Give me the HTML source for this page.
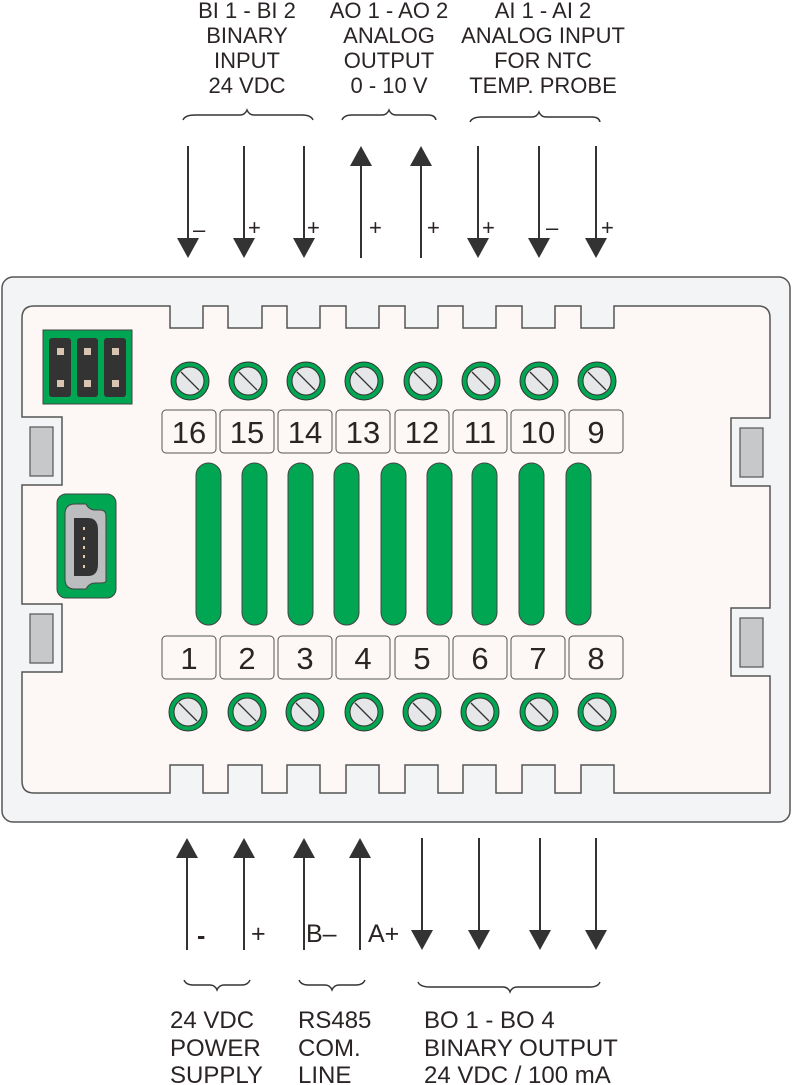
<!DOCTYPE html>
<html><head><meta charset="utf-8"><style>
html,body{margin:0;padding:0;background:#fff;}
svg{display:block;}
text{font-family:"Liberation Sans",Arial,sans-serif;fill:#2b2424;}
</style></head><body>
<svg width="792" height="1085" viewBox="0 0 792 1085" xmlns="http://www.w3.org/2000/svg">
<defs>
<g id="screw">
<circle r="19" fill="#00a651" stroke="#333" stroke-width="1"/>
<circle r="14" fill="#e6e7e8" stroke="#333" stroke-width="1"/>
<line x1="-9" y1="-9" x2="9" y2="9" stroke="#333" stroke-width="1.3"/>
</g>
<g id="dn"><line x1="0" y1="0" x2="0" y2="95" stroke="#333" stroke-width="2"/><polygon points="-11,92 11,92 0,112" fill="#333"/></g>
<g id="up"><line x1="0" y1="15" x2="0" y2="112" stroke="#333" stroke-width="2"/><polygon points="-11,20 11,20 0,0" fill="#333"/></g>
</defs>

<!-- top text -->
<g font-size="22" text-anchor="middle">
<text x="247" y="18">BI 1 - BI 2</text><text x="247" y="43">BINARY</text><text x="247" y="68">INPUT</text><text x="247" y="93">24 VDC</text>
<text x="389" y="18">AO 1 - AO 2</text><text x="389" y="43">ANALOG</text><text x="389" y="68">OUTPUT</text><text x="389" y="93">0 - 10 V</text>
<text x="543" y="18">AI 1 - AI 2</text><text x="543" y="43">ANALOG INPUT</text><text x="543" y="68">FOR NTC</text><text x="543" y="93">TEMP. PROBE</text>
</g>
<!-- top braces -->
<g fill="none" stroke="#333" stroke-width="1.4">
<path d="M183,120 Q185,115 195,115 L240,115 Q245,115 247,110 Q249,115 254,115 L302,115 Q311,115 313,120"/>
<path d="M342,120 Q344,115 352,115 L382,115 Q387,115 389,110 Q391,115 396,115 L428,115 Q435,115 436,120"/>
<path d="M470,122 Q472,117 482,117 L532,117 Q537,117 539,112 Q541,117 546,117 L592,117 Q599,117 600,122"/>
</g>
<!-- top arrows -->
<use href="#dn" x="188" y="146"/><use href="#dn" x="244" y="146"/><use href="#dn" x="304" y="146"/>
<use href="#up" x="361" y="146"/><use href="#up" x="421" y="146"/>
<use href="#dn" x="478" y="146"/><use href="#dn" x="539" y="146"/><use href="#dn" x="596" y="146"/>
<g font-size="22" fill="#333">
<text x="193" y="237">–</text><text x="248" y="235">+</text><text x="307" y="235">+</text>
<text x="369" y="235">+</text><text x="427" y="235">+</text>
<text x="482" y="235">+</text><text x="546" y="235">–</text><text x="601" y="235">+</text>
</g>

<!-- outer case -->
<rect x="2" y="277" width="788" height="545" rx="11" fill="#f2f4f6" stroke="#555" stroke-width="1.5"/>
<!-- inner board -->
<path d="M34,306 L170,306 L170,328 L203,328 L203,306 L228,306 L228,328 L262,328 L262,306 L287,306 L287,328 L320,328 L320,306 L346,306 L346,328 L379,328 L379,306 L405,306 L405,328 L438,328 L438,306 L463,306 L463,328 L496,328 L496,306 L522,306 L522,328 L555,328 L555,306 L581,306 L581,328 L614,328 L614,306 L758,306 Q770,306 770,318 L770,418 L731,418 L731,486 L770,486 L770,608 L731,608 L731,676 L770,676 L770,793 L614,793 L614,765 L581,765 L581,793 L555,793 L555,765 L522,765 L522,793 L496,793 L496,765 L463,765 L463,793 L438,793 L438,765 L405,765 L405,793 L379,793 L379,765 L346,765 L346,793 L320,793 L320,765 L287,765 L287,793 L262,793 L262,765 L228,765 L228,793 L203,793 L203,765 L170,765 L170,793 L34,793 Q22,793 22,781 L22,672 L62,672 L62,604 L22,604 L22,485 L62,485 L62,417 L22,417 L22,318 Q22,306 34,306 Z" fill="#fdf8f6" stroke="#555" stroke-width="1.5"/>
<!-- side rects -->
<g fill="#c7c8ca" stroke="#555" stroke-width="1.2">
<rect x="30" y="427" width="23" height="49"/><rect x="30" y="614" width="23" height="49"/>
<rect x="740" y="428" width="23" height="49"/><rect x="740" y="618" width="23" height="49"/>
</g>
<!-- jumper block -->
<rect x="43" y="330" width="89" height="74" fill="#00a651" stroke="#444" stroke-width="1"/>
<g fill="#333">
<rect x="49" y="338" width="22" height="59" rx="3"/><rect x="77" y="338" width="21" height="59" rx="3"/><rect x="104" y="338" width="22" height="59" rx="3"/>
</g>
<g fill="#d8c4b0">
<rect x="57" y="348" width="7" height="7"/><rect x="84" y="348" width="7" height="7"/><rect x="112" y="348" width="7" height="7"/>
<rect x="57" y="380" width="7" height="7"/><rect x="84" y="380" width="7" height="7"/><rect x="112" y="380" width="7" height="7"/>
</g>
<!-- USB -->
<rect x="57" y="494" width="59" height="104" rx="9" fill="#00a651" stroke="#444" stroke-width="1"/>
<path d="M75,504 L86,504 Q89,510 95,510 L100,510 Q106,510 106,516 L106,581 Q106,583 100,583 L95,583 Q89,583 86,589 L75,589 Q65,589 65,579 L65,514 Q65,504 75,504 Z" fill="#bcbdbf" stroke="#444" stroke-width="1"/>
<path d="M74,518 L88,518 Q98,518 98,530 L98,564 Q98,576 88,576 L74,576 Z" fill="#333"/>
<g fill="#e8c9a8"><rect x="83" y="527" width="2" height="3"/><rect x="83" y="537" width="2" height="3"/><rect x="83" y="546" width="2" height="3"/><rect x="83" y="555" width="2" height="3"/><rect x="83" y="565" width="2" height="3"/></g>

<!-- screws -->
<g>
<use href="#screw" x="190" y="381"/><use href="#screw" x="248" y="381"/><use href="#screw" x="306" y="381"/><use href="#screw" x="364" y="381"/><use href="#screw" x="423" y="381"/><use href="#screw" x="481" y="381"/><use href="#screw" x="539" y="381"/><use href="#screw" x="597" y="381"/>
<use href="#screw" x="188" y="712"/><use href="#screw" x="247" y="712"/><use href="#screw" x="305" y="712"/><use href="#screw" x="364" y="712"/><use href="#screw" x="422" y="712"/><use href="#screw" x="480" y="712"/><use href="#screw" x="539" y="712"/><use href="#screw" x="597" y="712"/>
</g>
<!-- number boxes -->
<g fill="#fdf8f6" stroke="#555" stroke-width="1">
<rect x="162" y="410" width="54" height="43" rx="4"/><rect x="220" y="410" width="54" height="43" rx="4"/><rect x="278" y="410" width="54" height="43" rx="4"/><rect x="336" y="410" width="54" height="43" rx="4"/><rect x="395" y="410" width="54" height="43" rx="4"/><rect x="453" y="410" width="54" height="43" rx="4"/><rect x="511" y="410" width="54" height="43" rx="4"/><rect x="569" y="410" width="54" height="43" rx="4"/>
<rect x="162" y="636" width="54" height="43" rx="4"/><rect x="220" y="636" width="54" height="43" rx="4"/><rect x="278" y="636" width="54" height="43" rx="4"/><rect x="336" y="636" width="54" height="43" rx="4"/><rect x="395" y="636" width="54" height="43" rx="4"/><rect x="453" y="636" width="54" height="43" rx="4"/><rect x="511" y="636" width="54" height="43" rx="4"/><rect x="569" y="636" width="54" height="43" rx="4"/>
</g>
<g font-size="31" text-anchor="middle">
<text x="189" y="443">16</text><text x="247" y="443">15</text><text x="305" y="443">14</text><text x="363" y="443">13</text><text x="422" y="443">12</text><text x="480" y="443">11</text><text x="538" y="443">10</text><text x="596" y="443">9</text>
<text x="189" y="669">1</text><text x="247" y="669">2</text><text x="305" y="669">3</text><text x="363" y="669">4</text><text x="422" y="669">5</text><text x="480" y="669">6</text><text x="538" y="669">7</text><text x="596" y="669">8</text>
</g>
<!-- green bars -->
<g fill="#00a651" stroke="#444" stroke-width="1">
<rect x="196" y="463" width="25" height="162" rx="12.5"/><rect x="242" y="463" width="25" height="162" rx="12.5"/><rect x="288" y="463" width="25" height="162" rx="12.5"/><rect x="334" y="463" width="25" height="162" rx="12.5"/><rect x="381" y="463" width="25" height="162" rx="12.5"/><rect x="427" y="463" width="25" height="162" rx="12.5"/><rect x="472" y="463" width="25" height="162" rx="12.5"/><rect x="519" y="463" width="25" height="162" rx="12.5"/><rect x="566" y="463" width="25" height="162" rx="12.5"/>
</g>

<!-- bottom arrows -->
<use href="#up" x="187" y="838"/><use href="#up" x="244" y="838"/><use href="#up" x="304" y="838"/><use href="#up" x="360" y="838"/>
<use href="#dn" x="422" y="838"/><use href="#dn" x="479" y="838"/><use href="#dn" x="540" y="838"/><use href="#dn" x="596" y="838"/>
<g font-size="25">
<text x="197" y="944" font-weight="bold">-</text><text x="251" y="942">+</text><text x="306" y="942">B–</text><text x="368" y="942">A+</text>
</g>
<g fill="none" stroke="#333" stroke-width="1.4">
<path d="M184,980 Q186,985 193,985 L210,985 Q215,985 217,990 Q219,985 224,985 L242,985 Q248,985 250,980"/>
<path d="M299,980 Q301,985 308,985 L325,985 Q330,985 332,990 Q334,985 339,985 L356,985 Q363,985 365,980"/>
<path d="M418,982 Q420,987 430,987 L503,987 Q508,987 510,992 Q512,987 517,987 L590,987 Q598,987 600,982"/>
</g>
<g font-size="24">
<text x="170" y="1028">24 VDC</text><text x="170" y="1056">POWER</text><text x="170" y="1083">SUPPLY</text>
<text x="298" y="1028">RS485</text><text x="298" y="1056">COM.</text><text x="298" y="1083">LINE</text>
<text x="424" y="1028">BO 1 - BO 4</text><text x="424" y="1056">BINARY OUTPUT</text><text x="424" y="1083">24 VDC / 100 mA</text>
</g>
</svg>
</body></html>
